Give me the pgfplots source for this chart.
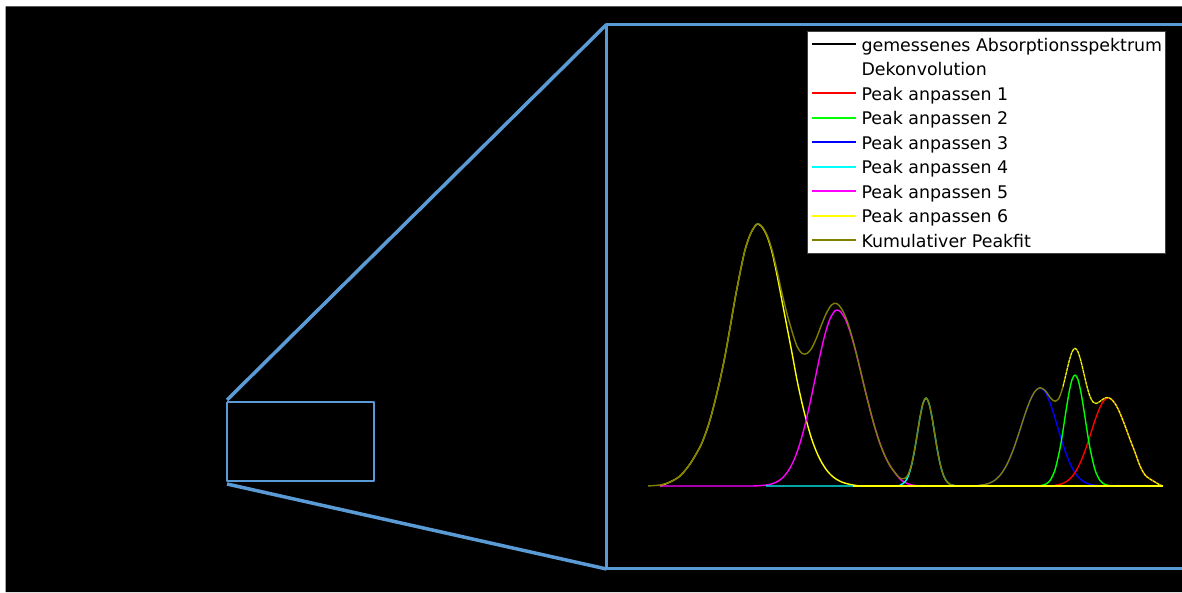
\documentclass[border=0pt]{standalone}
\usepackage{fontspec}
\setmainfont{DejaVu Sans}
\usepackage{pgfplots}
\pgfplotsset{compat=1.18}
\definecolor{frameblue}{RGB}{91,155,213}
\definecolor{olivec}{RGB}{128,128,0}
\definecolor{pgreen}{RGB}{0,255,0}
\definecolor{pblue}{RGB}{0,0,255}
\definecolor{pred}{RGB}{255,0,0}
\definecolor{pyellow}{RGB}{255,255,0}
\definecolor{pcyan}{RGB}{0,255,255}
\definecolor{pmagenta}{RGB}{255,0,255}
\pgfplotsset{
  leg/.style={legend image code/.code={\draw[line width=2pt, draw=#1] (0pt,0pt) -- (44pt,0pt);}},
}
\begin{document}
\begin{tikzpicture}
\begin{axis}[
  scale only axis, width=1182pt, height=592pt,
  xmin=0, xmax=1182, ymin=-106, ymax=486,
  hide axis, clip=true,
  legend style={at={(axis cs:807,455)}, anchor=north west, draw=black!75, line width=1pt,
    fill=white, inner xsep=3pt, inner ysep=0.75pt, column sep=5pt, row sep=0pt,
    font=\fontsize{17.4}{24.5}\selectfont,
    nodes={inner sep=0pt, text height=18.95pt, text depth=5.55pt}},
  legend cell align=left,
  every axis plot/.append style={line join=round},
]
% backgrounds
\addplot[forget plot, fill=white, draw=none] coordinates {(0,-106)(1182,-106)(1182,486)(0,486)(0,-106)};
\addplot[forget plot, fill=black, draw=none] coordinates {(5.5,-106)(1182,-106)(1182,479.5)(5.5,479.5)(5.5,-106)};
% zoom frame
\addplot[forget plot, frameblue, line width=3pt] coordinates {(1200,461.5)(606.5,461.5)(606.5,-82.5)(1200,-82.5)};
\addplot[forget plot, frameblue, line width=2pt] coordinates {(227,84)(373.5,84)(373.5,5.5)(227,5.5)(227,84)};
\addplot[forget plot, frameblue, line width=3.5pt] coordinates {(227,86)(606.5,461.5)};
\addplot[forget plot, frameblue, line width=3.5pt] coordinates {(227,2)(606.5,-83)};
% Peak 6 (yellow)
\addplot[forget plot, pyellow, line width=1.4pt, smooth] coordinates {(660,0)(670,4)(680,10)(690,22)(700,39)(705,51)(710,66)(715,85)(720,106)(725,130)(730,158)(735,187)(740,213)(745,236)(750,251)(755,260)(758,262)(762,259)(767,250)(772,234)(777,211)(782,185)(787,159)(792,133)(797,106)(802,83)(807,63)(812,46)(817,33)(822,23)(827,15.4)(832,10)(837,6.4)(842,3.9)(847,2.3)(853,1)(860,0)};
% Peak 5 (magenta)
\addplot[forget plot, pmagenta, line width=1.4pt, smooth] coordinates {(660,0)(700,0)(750,0)(760,0.4)(765,0.8)(770,1.7)(775,3.3)(780,6.1)(785,10.8)(790,18)(795,28.5)(800,42.8)(805,61.1)(810,82.9)(815,106.7)(820,130.6)(825,151.7)(830,167.3)(835,175.3)(837,176)(840,174.8)(845,167.5)(850,154.5)(855,137.2)(860,117.2)(865,96.3)(870,76.2)(875,58)(880,42.4)(885,29.9)(890,20.3)(895,13.2)(900,7)(905,3.5)(910,1.5)(915,0.5)};
% Peak 4 (cyan)
\addplot[forget plot, pcyan, line width=1.4pt, smooth] coordinates {(766,0)(850,0)(895,0.1)(900,0.8)(905,4.2)(908,9.3)(911,18.5)(914,32.5)(917,50.2)(920,68.6)(923,82.7)(926,88)(929,82.7)(932,68.6)(935,50.2)(938,32.5)(941,18.5)(944,9.3)(947,4.2)(950,1.6)(955,0.3)(960,0)};
% Peak 3 (blue)
\addplot[forget plot, pblue, line width=1.4pt, smooth] coordinates {(975,0)(980,0.7)(985,1.5)(990,3.1)(995,5.9)(1000,10.7)(1005,18)(1010,28.2)(1015,41.2)(1020,56.3)(1025,71.8)(1030,85.3)(1035,94.7)(1040,98)(1045,94.1)(1050,83.2)(1055,67.9)(1060,51)(1065,35.3)(1070,22.5)(1075,13.3)(1080,7.2)(1085,3.6)(1090,1.7)(1095,0.7)(1100,0.2)};
% Peak 1 (red)
\addplot[forget plot, pred, line width=1.4pt, smooth] coordinates {(1055,0.7)(1060,1.6)(1065,3.6)(1070,7.2)(1075,13.4)(1080,22.7)(1085,35.2)(1090,50.2)(1095,65.7)(1100,78.8)(1104,85.6)(1108,88)(1112,86.2)(1116,80.9)(1120,72.8)(1125,60.2)(1130,46.6)(1135,33.7)(1140,20)(1145,11)(1150,7)(1155,4)(1160,1)(1163,0)};
% Peak 2 (green)
\addplot[forget plot, pgreen, line width=1.4pt, smooth] coordinates {(1040,0.3)(1045,1.5)(1050,5.5)(1055,16.2)(1060,37.6)(1063,55.6)(1066,75.2)(1069,93.3)(1072,106.3)(1075,111)(1078,106.3)(1081,93.3)(1084,75.2)(1087,55.6)(1090,37.6)(1095,16.2)(1100,5.5)(1105,1.5)(1110,0.3)};
% Cumulative peak fit (olive)
\addplot[forget plot, olivec, line width=1.4pt, smooth] coordinates {(648,0)(655,0.5)(660,1)(670,4)(680,10)(690,22)(700,39)(705,51)(710,66)(715,85)(720,106)(725,130)(730,158)(735,187)(740,213)(745,236)(750,251)(755,260)(758,262.3)(762,259.5)(767,251.1)(772,236.2)(777,215.3)(782,192.7)(787,172.3)(792,154.7)(797,139.7)(802,132.6)(807,132.5)(812,138.3)(817,149.4)(822,162.5)(827,174.1)(832,181.5)(837,182.4)(842,176.5)(847,165.3)(853,145.5)(860,117.2)(865,96.3)(870,76.2)(875,58)(880,42.4)(885,29.9)(890,20.3)(895,13.3)(900,7.8)(905,7.7)(908,11.5)(911,19.7)(914,33.3)(917,50.5)(920,68.8)(923,82.8)(926,88)(929,82.7)(932,68.6)(935,50.2)(938,32.5)(941,18.5)(944,9.3)(947,4.2)(950,1.6)(955,0.3)(960,0)(975,0)(980,0.7)(985,1.5)(990,3.1)(995,5.9)(1000,10.7)(1005,18)(1010,28.2)(1015,41.2)(1020,56.3)(1025,71.8)(1030,85.3)(1035,94.7)(1040,98.3)(1045,95.6)(1050,88.7)(1053,85.7)(1055,84.8)(1058,86.5)(1060,90.2)(1063,99.5)(1066,111.9)(1069,124.4)(1072,134.1)(1075,137.7)(1078,134.1)(1081,124.5)(1084,111.9)(1087,99.3)(1090,89.5)(1093,84)(1096,82.5)(1100,84.6)(1104,87.5)(1108,88.5)(1112,86.2)(1116,80.9)(1120,72.8)(1125,60.2)(1130,46.6)(1135,33.7)(1140,20)(1145,11)(1150,7)(1155,4)(1160,1)(1163,0)};
% Peak 6 baseline and overlay (yellow)
\addplot[forget plot, pyellow, line width=1.4pt] coordinates {(853,0)(1163,0)};
\addplot[forget plot, pyellow, line width=1pt, dash pattern=on 3pt off 1pt, smooth] coordinates {(1063,99.5)(1066,111.9)(1069,124.4)(1072,134.1)(1075,137.7)(1078,134.1)(1081,124.5)(1084,111.9)(1087,99.3)(1090,89.5)(1093,84)(1096,82.5)(1100,84.6)(1104,87.5)(1108,88.5)(1112,86.2)(1116,80.9)(1120,72.8)(1125,60.2)(1130,46.6)(1135,33.7)(1140,20)(1145,11)(1150,7)(1155,4)(1160,1)(1163,0)};
% legend
\addlegendimage{leg=black}\addlegendentry{gemessenes Absorptionsspektrum}
\addlegendimage{leg=white}\addlegendentry{Dekonvolution}
\addlegendimage{leg=pred}\addlegendentry{Peak anpassen 1}
\addlegendimage{leg=pgreen}\addlegendentry{Peak anpassen 2}
\addlegendimage{leg=pblue}\addlegendentry{Peak anpassen 3}
\addlegendimage{leg=pcyan}\addlegendentry{Peak anpassen 4}
\addlegendimage{leg=pmagenta}\addlegendentry{Peak anpassen 5}
\addlegendimage{leg=pyellow}\addlegendentry{Peak anpassen 6}
\addlegendimage{leg=olivec}\addlegendentry{Kumulativer Peakfit}
\end{axis}
\end{tikzpicture}
\end{document}
